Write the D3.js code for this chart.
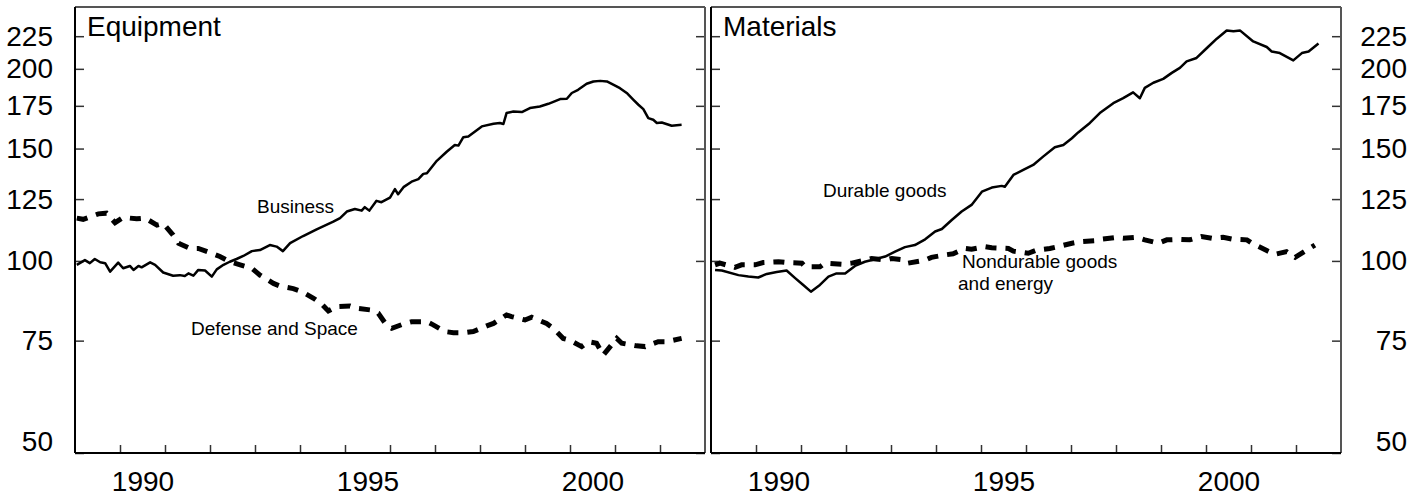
<!DOCTYPE html>
<html><head><meta charset="utf-8">
<script src="https://cdn.jsdelivr.net/npm/d3@7"></script>
<style>
body{margin:0;background:#fff;}
svg{display:block;font-family:"Liberation Sans",Arial,sans-serif;}
</style></head>
<body>
<svg id="chart" width="1424" height="498"></svg>
<script>
// ---- Data (decimal year, index value) ----
const yTicks = [50, 75, 100, 125, 150, 175, 200, 225];
const xTickYears = [1990,1991,1992,1993,1994,1995,1996,1997,1998,1999,2000,2001,2002];
const xLabelYears = [1990, 1995, 2000];
const panelTitles = ["Equipment", "Materials"];

const business = [[1989.04,98.6],[1989.22,100.3],[1989.33,99.2],[1989.44,100.7],[1989.56,99.5],[1989.67,99.2],[1989.78,96.2],[1989.96,99.4],[1990.07,97.4],[1990.22,98.2],[1990.30,96.8],[1990.41,98.2],[1990.48,97.7],[1990.67,99.5],[1990.78,98.6],[1990.96,95.9],[1991.18,94.8],[1991.33,95.0],[1991.44,94.7],[1991.52,95.6],[1991.63,94.8],[1991.74,96.8],[1991.89,96.6],[1992.04,94.5],[1992.15,97.0],[1992.30,98.6],[1992.44,99.7],[1992.59,100.7],[1992.74,101.8],[1992.93,103.6],[1993.11,104.0],[1993.33,105.9],[1993.48,105.3],[1993.62,103.6],[1993.78,106.6],[1994.07,109.4],[1994.37,112.1],[1994.74,115.2],[1994.89,116.7],[1995.04,119.5],[1995.22,120.6],[1995.37,119.9],[1995.44,121.4],[1995.54,119.9],[1995.70,124.2],[1995.81,123.6],[1996.00,125.7],[1996.11,129.6],[1996.18,127.2],[1996.30,130.5],[1996.48,133.1],[1996.63,134.3],[1996.74,136.9],[1996.82,137.2],[1997.04,143.5],[1997.26,148.3],[1997.44,151.9],[1997.52,151.6],[1997.63,156.3],[1997.74,156.7],[1998.04,162.5],[1998.30,164.1],[1998.44,164.5],[1998.52,163.9],[1998.59,170.5],[1998.74,171.5],[1998.93,171.1],[1999.11,173.6],[1999.33,174.6],[1999.52,176.3],[1999.78,179.3],[1999.93,179.5],[2000.04,183.3],[2000.18,185.4],[2000.37,189.5],[2000.52,191.1],[2000.67,191.5],[2000.82,191.1],[2000.96,188.9],[2001.11,186.5],[2001.26,183.3],[2001.41,178.8],[2001.52,175.7],[2001.63,172.9],[2001.74,167.4],[2001.85,166.4],[2001.93,164.5],[2002.04,164.8],[2002.26,162.9],[2002.48,163.4]];

const defense = [[1989.04,116.7],[1989.18,116.2],[1989.52,118.5],[1989.70,118.8],[1989.89,114.8],[1990.07,117.0],[1990.37,116.4],[1990.56,116.7],[1990.82,113.8],[1990.96,114.5],[1991.18,109.8],[1991.30,106.6],[1991.56,104.6],[1991.74,104.6],[1992.04,102.8],[1992.22,101.6],[1992.44,99.7],[1992.67,98.6],[1992.93,97.4],[1993.11,95.0],[1993.41,92.2],[1993.56,91.3],[1993.85,90.5],[1994.04,89.5],[1994.30,87.4],[1994.48,85.6],[1994.63,83.5],[1994.81,84.8],[1995.11,85.0],[1995.26,84.3],[1995.56,83.8],[1995.74,82.8],[1995.93,79.2],[1996.04,78.4],[1996.33,79.8],[1996.48,80.3],[1996.82,80.3],[1996.96,79.4],[1997.22,77.5],[1997.41,77.2],[1997.67,77.2],[1997.85,77.5],[1998.15,79.1],[1998.30,79.8],[1998.59,82.3],[1998.70,81.8],[1999.00,80.8],[1999.15,81.6],[1999.48,79.8],[1999.63,78.4],[1999.85,75.6],[2000.00,75.1],[2000.26,73.4],[2000.41,74.7],[2000.59,74.3],[2000.74,71.2],[2001.04,75.6],[2001.15,74.3],[2001.48,73.6],[2001.67,73.4],[2001.96,74.7],[2002.15,74.7],[2002.48,75.6]];

const durable = [[1989.09,96.8],[1989.24,96.6],[1989.61,95.0],[1989.83,94.5],[1990.05,94.2],[1990.24,95.4],[1990.46,96.1],[1990.68,96.6],[1990.87,94.0],[1991.05,91.7],[1991.22,89.5],[1991.42,91.7],[1991.61,94.5],[1991.79,95.6],[1991.98,95.6],[1992.20,98.2],[1992.42,99.7],[1992.64,100.6],[1992.87,101.6],[1993.09,103.4],[1993.31,105.1],[1993.53,105.9],[1993.76,108.1],[1993.98,111.2],[1994.13,112.2],[1994.35,115.9],[1994.57,119.5],[1994.79,122.4],[1995.02,128.4],[1995.24,130.3],[1995.46,131.1],[1995.53,130.7],[1995.72,136.4],[1995.94,138.9],[1996.16,141.4],[1996.38,145.7],[1996.64,150.7],[1996.83,151.9],[1997.02,155.7],[1997.16,159.0],[1997.42,164.5],[1997.64,170.5],[1997.94,176.7],[1998.16,179.9],[1998.38,183.7],[1998.53,179.9],[1998.64,186.7],[1998.83,190.2],[1999.05,192.9],[1999.24,197.1],[1999.42,200.7],[1999.57,205.5],[1999.79,208.0],[2000.02,215.6],[2000.24,223.0],[2000.46,229.6],[2000.61,229.1],[2000.76,229.6],[2001.05,220.8],[2001.35,216.4],[2001.46,212.9],[2001.64,211.7],[2001.94,206.2],[2002.13,211.7],[2002.28,212.9],[2002.50,219.2]];

const nondurable = [[1989.09,98.6],[1989.20,99.2],[1989.53,97.7],[1989.68,98.6],[1989.98,98.6],[1990.16,99.4],[1990.50,99.7],[1990.68,99.4],[1991.02,99.2],[1991.09,97.9],[1991.42,97.9],[1991.53,99.2],[1991.90,98.8],[1992.13,99.2],[1992.42,100.3],[1992.57,100.9],[1992.87,100.3],[1993.02,100.9],[1993.31,100.3],[1993.38,99.2],[1993.76,100.3],[1993.90,101.3],[1994.20,102.2],[1994.38,102.6],[1994.64,104.6],[1994.79,104.3],[1995.09,105.3],[1995.24,104.9],[1995.61,104.6],[1995.72,103.6],[1996.05,102.8],[1996.24,104.0],[1996.53,104.6],[1996.72,105.3],[1997.02,106.6],[1997.20,107.2],[1997.53,107.6],[1997.64,108.1],[1997.98,108.8],[1998.16,108.5],[1998.46,108.9],[1998.64,107.9],[1998.94,106.6],[1999.13,107.9],[1999.42,108.1],[1999.64,107.9],[1999.90,109.2],[2000.13,108.5],[2000.38,108.9],[2000.61,108.1],[2000.91,107.9],[2001.05,106.3],[2001.35,103.8],[2001.53,102.4],[2001.79,103.4],[2001.98,101.3],[2002.24,104.0],[2002.42,105.9]];

// ---- Layout ----
const svg = d3.select("#chart");
const yTop = 7, yBottom = 453;
const panels = [
  {x0: 75, x1: 705, title: panelTitles[0], solid: business, dashed: defense,
   labels: [{t:["Business"], x:257, y:213}, {t:["Defense and Space"], x:191, y:335}]},
  {x0: 711, x1: 1341, title: panelTitles[1], solid: durable, dashed: nondurable,
   labels: [{t:["Nondurable goods"], x:962, y:268}, {t:["and energy"], x:958, y:290}, {t:["Durable goods"], x:823, y:197}]}
];
const y = d3.scaleLog().domain([50, 250]).range([yBottom, yTop]);
const fontBig = 28, fontSmall = 19;

panels.forEach((p, i) => {
  const x = d3.scaleLinear().domain([1989, 2003]).range([p.x0, p.x1]);
  const g = svg.append("g");

  g.append("g").attr("transform", `translate(${p.x0},0)`)
    .call(d3.axisLeft(y).tickValues(yTicks).tickSize(-9).tickPadding(22).tickFormat(i === 0 ? d3.format("d") : () => ""));
  const aR = g.append("g").attr("transform", `translate(${p.x1},0)`)
    .call(d3.axisRight(y).tickValues(yTicks).tickSize(-9).tickPadding(22).tickFormat(i === 1 ? d3.format("d") : () => ""));
  aR.selectAll("text").attr("text-anchor", "end").attr("x", 66);
  g.append("g").attr("transform", `translate(0,${yBottom})`)
    .call(d3.axisBottom(x).tickValues(xTickYears).tickSize(-8).tickFormat(() => ""));
  g.append("g").attr("transform", `translate(0,${yBottom})`)
    .call(d3.axisBottom(x).tickValues(xLabelYears.map(v => v + 0.5)).tickSize(0).tickPadding(18).tickFormat(v => String(Math.floor(v))));

  g.selectAll(".domain").remove();
  g.selectAll(".tick line").attr("stroke", "#333").attr("stroke-width", 1.5);
  g.selectAll(".tick text").attr("font-size", fontBig).attr("fill", "#000")
    .attr("font-family", '"Liberation Sans",Arial,sans-serif');
  g.selectAll(".tick text").filter(d => d === 50).attr("dy", "-0.08em");

  g.append("line").attr("x1", p.x0).attr("x2", p.x1).attr("y1", yTop).attr("y2", yTop).attr("stroke", "#555").attr("stroke-width", 2);
  g.append("line").attr("x1", p.x1).attr("x2", p.x1).attr("y1", yTop).attr("y2", yBottom).attr("stroke", "#555").attr("stroke-width", 2);
  g.append("line").attr("x1", p.x0).attr("x2", p.x0).attr("y1", yTop).attr("y2", yBottom).attr("stroke", "#000").attr("stroke-width", 2);
  g.append("line").attr("x1", p.x0).attr("x2", p.x1).attr("y1", yBottom).attr("y2", yBottom).attr("stroke", "#000").attr("stroke-width", 2);

  const line = d3.line().x(d => x(d[0])).y(d => y(d[1]));
  g.append("path").datum(p.dashed).attr("d", line).attr("fill", "none")
    .attr("stroke", "#000").attr("stroke-width", 5).attr("stroke-dasharray", "11,9");
  g.append("path").datum(p.solid).attr("d", line).attr("fill", "none")
    .attr("stroke", "#000").attr("stroke-width", 2.5).attr("stroke-linejoin", "round");

  g.append("text").attr("x", p.x0 + 12).attr("y", 36).attr("font-size", fontBig).text(p.title);

  p.labels.forEach(l => {
    g.append("text").attr("x", l.x).attr("y", l.y).attr("font-size", fontSmall).text(l.t[0]);
  });
});
</script>
</body></html>
